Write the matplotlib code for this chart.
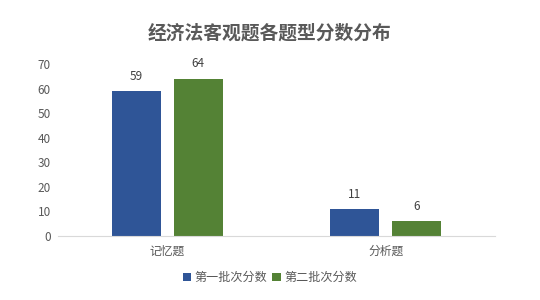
import numpy as np
import matplotlib.pyplot as plt

plt.rcParams['font.family'] = ['Noto Sans CJK SC', 'DejaVu Sans']

categories = ['记忆题', '分析题']
series_names = ['第一批次分数', '第二批次分数']
batch1 = [59, 11]
batch2 = [64, 6]
colors = ['#2F5597', '#548235']

fig = plt.figure(figsize=(5.4, 3.0), dpi=100)
ax = fig.add_axes([0.107, 0.213, 0.810, 0.574])

x = np.arange(len(categories))
w = 0.224
gap = 0.06
off = (w + gap) / 2
b1 = ax.bar(x - off, batch1, w, color=colors[0], label=series_names[0])
b2 = ax.bar(x + off, batch2, w, color=colors[1], label=series_names[1])

for bars in (b1, b2):
    for r in bars:
        ax.text(r.get_x() + r.get_width() / 2, r.get_height() + 6, f'{int(r.get_height())}',
                ha='center', va='center', fontsize=8.5, color='#404040')

ax.set_xlim(-0.5, 1.5)
ax.set_ylim(0, 70)
ax.set_yticks(range(0, 71, 10))
ax.set_xticks(x)
ax.set_xticklabels(categories)
ax.tick_params(axis='both', length=0, labelsize=8.5, colors='#595959')
ax.tick_params(axis='x', pad=6)
ax.tick_params(axis='y', pad=5)
for s in ['top', 'right', 'left']:
    ax.spines[s].set_visible(False)
ax.spines['bottom'].set_color('#D9D9D9')

fig.text(0.5, 0.89, '经济法客观题各题型分数分布', ha='center', va='center',
         fontsize=13.5, fontweight='bold', color='#595959')

fig.legend(loc='center', bbox_to_anchor=(0.5, 0.075), ncol=2, frameon=False,
           fontsize=8.7, handlelength=0.7, handleheight=0.7, handletextpad=0.3,
           columnspacing=0.4, labelcolor='#595959')

fig.savefig('out.png', dpi=100)
